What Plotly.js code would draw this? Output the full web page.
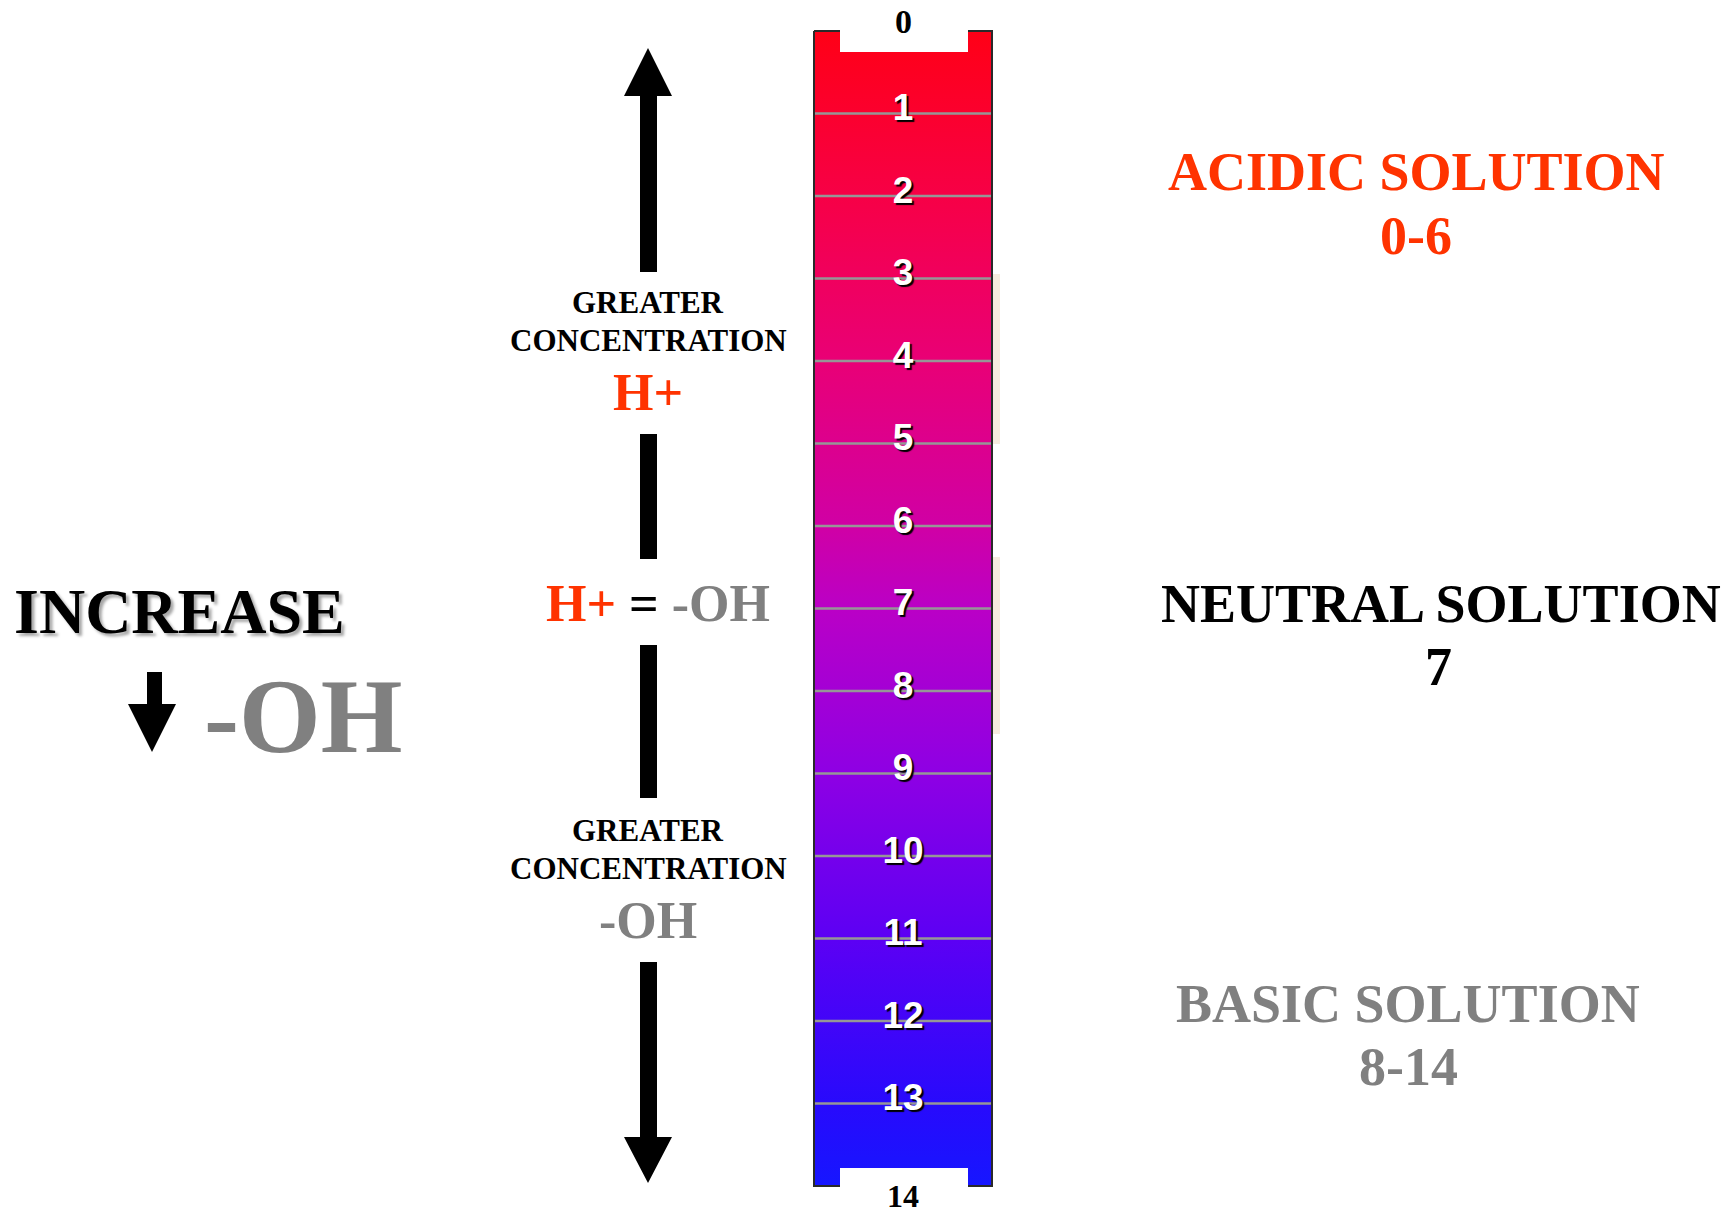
<!DOCTYPE html>
<html>
<head>
<meta charset="utf-8">
<script src="https://cdn.plot.ly/plotly-3.0.1.min.js"></script>
<style>
  html, body { margin: 0; padding: 0; background: #ffffff; }
  #chart { width: 1731px; height: 1217px; }
</style>
</head>
<body>
<div id="chart"></div>
<script>
// ---------------- DATA ----------------
const phMin = 0;
const phMax = 14;
const innerTicks = [1, 2, 3, 4, 5, 6, 7, 8, 9, 10, 11, 12, 13];
const innerTickLabels = ['1', '2', '3', '4', '5', '6', '7', '8', '9', '10', '11', '12', '13'];
const endTicks = [0, 14];
const endTickLabels = ['0', '14'];
const zoneNames = ['ACIDIC SOLUTION', 'NEUTRAL SOLUTION', 'BASIC SOLUTION'];
const zoneRanges = ['0-6', '7', '8-14'];
const gradientStops = [0, 0.143, 0.286, 0.429, 0.5, 0.643, 0.786, 0.929, 1];
const gradientColors = ['rgb(255,0,22)', 'rgb(247,0,70)', 'rgb(233,0,118)', 'rgb(208,0,165)',
  'rgb(186,0,198)', 'rgb(142,0,228)', 'rgb(92,0,244)', 'rgb(40,10,252)', 'rgb(22,22,255)'];

// ---------------- LAYOUT HELPERS ----------------
const W = 1731, H = 1217;
const PX0 = 31, PXPERPH = 82.5;              // pixel row of pH 0 and px per pH unit
const Y = px => (px - PX0) / PXPERPH;         // pixel row -> pH axis units
const BAR_L = 814, BAR_R = 992, BAR_C = (BAR_L + BAR_R) / 2;
const RED = '#FF3300', GRAY = '#808080';
const SERIF = 'Liberation Serif, Times New Roman, serif';

const colorscale = gradientStops.map((s, i) => [s, gradientColors[i]]);

// bar body
const barTrace = {
  type: 'scatter', mode: 'lines',
  x: [BAR_L, BAR_R, BAR_R, BAR_L, BAR_L],
  y: [phMin, phMin, phMax, phMax, phMin],
  fill: 'toself',
  fillgradient: { type: 'vertical', colorscale: colorscale, start: phMin, stop: phMax },
  line: { color: '#2a2a2a', width: 2 },
  hoverinfo: 'skip', showlegend: false
};

// grid lines across bar
const gx = [], gy = [];
innerTicks.forEach(t => { gx.push(BAR_L + 1, BAR_R - 1, null); gy.push(t, t, null); });
const gridTrace = {
  type: 'scatter', mode: 'lines', x: gx, y: gy,
  line: { color: 'rgba(150,150,150,1)', width: 2.5 },
  hoverinfo: 'skip', showlegend: false
};

// inner numbers
const labelTrace = {
  type: 'scatter', mode: 'text',
  x: innerTicks.map(() => BAR_C),
  y: innerTicks.map(t => t - 0.03),
  text: innerTickLabels,
  textposition: 'middle center',
  cliponaxis: false,
  textfont: { family: 'Liberation Sans Narrow, Arial Narrow, Liberation Sans, Arial', size: 37,
              color: '#ffffff', weight: 'bold', shadow: '2px 2px 1px #000000' },
  hoverinfo: 'skip', showlegend: false
};

// ---------------- SHAPES ----------------
function poly(pts, color) {
  const d = pts.map((p, i) => (i ? 'L' : 'M') + p[0] + ',' + Y(p[1])).join(' ') + ' Z';
  return { type: 'path', xref: 'x', yref: 'y', path: d, fillcolor: color, line: { width: 0 }, layer: 'above' };
}
function rect(x0, x1, y0, y1, color) {
  return { type: 'rect', xref: 'x', yref: 'y', x0: x0, x1: x1, y0: Y(y0), y1: Y(y1),
           fillcolor: color, line: { width: 0 }, layer: 'above' };
}
const AX = 648, SL = 640, SR = 657, HL = 624, HR = 672;
const shapes = [
  // notches
  rect(840, 968, 26, 52, '#ffffff'),
  rect(840, 968, 1168, 1190, '#ffffff'),
  // faint strips right of bar
  rect(993, 1000, 274, 444, 'rgba(240,222,200,0.6)'),
  rect(993, 1000, 557, 734, 'rgba(240,222,200,0.6)'),
  // upper arrow
  poly([[AX, 48], [HR, 96], [SR, 96], [SR, 272], [SL, 272], [SL, 96], [HL, 96]], '#000'),
  rect(SL, SR, 434, 559, '#000'),
  rect(SL, SR, 645, 798, '#000'),
  // lower arrow
  poly([[SL, 962], [SR, 962], [SR, 1137], [HR, 1137], [AX, 1183], [HL, 1137], [SL, 1137]], '#000'),
  // small down arrow at left
  poly([[147, 672], [162, 672], [162, 704], [176, 704], [152, 752], [128, 704], [147, 704]], '#000')
];

// ---------------- ANNOTATIONS ----------------
function ann(text, x, y, size, color, extra) {
  return Object.assign({
    text: text, x: x, y: Y(y), xref: 'x', yref: 'y', showarrow: false,
    xanchor: 'center', yanchor: 'middle',
    font: { family: SERIF, size: size, color: color, weight: 'bold' }
  }, extra || {});
}
const annotations = [
  // end labels of the scale
  ann(endTickLabels[0], BAR_C, 21, 34, '#000'),
  ann(endTickLabels[1], BAR_C, 1196, 32, '#000', { borderpad: 0 }),
  ann('GREATER', 648, 302, 31, '#000'),
  ann('CONCENTRATION', 648, 340, 31, '#000'),
  ann('H+', 648, 392, 52, RED),
  ann('<span style="color:' + RED + '">H+</span> = <span style="color:' + GRAY + '">-OH</span>', 658, 603, 52, '#000'),
  ann('GREATER', 648, 830, 31, '#000'),
  ann('CONCENTRATION', 648, 868, 31, '#000'),
  ann('-OH', 648, 920, 52, GRAY),
  ann('INCREASE', 12, 611, 64, '#000', { xanchor: 'left',
      font: { family: SERIF, size: 64, color: '#000', weight: 'bold', shadow: '3px 3px 3px rgba(0,0,0,0.35)' } }),
  ann('-OH', 202, 716, 105, GRAY, { xanchor: 'left' }),
  ann(zoneNames[0], 1416, 172, 54, RED),
  ann(zoneRanges[0], 1416, 236, 54, RED),
  ann(zoneNames[1], 1441, 604, 54, '#000'),
  ann(zoneRanges[1], 1438, 667, 54, '#000'),
  ann(zoneNames[2], 1408, 1004, 54, GRAY),
  ann(zoneRanges[2], 1408, 1067, 54, GRAY)
];

const layout = {
  width: W, height: H,
  margin: { l: 0, r: 0, t: 0, b: 0, pad: 0 },
  paper_bgcolor: '#ffffff', plot_bgcolor: '#ffffff',
  showlegend: false,
  xaxis: { range: [0, W], visible: false, fixedrange: true },
  yaxis: { range: [Y(H), Y(0)], visible: false, fixedrange: true },
  shapes: shapes,
  annotations: annotations
};

Plotly.newPlot('chart', [barTrace, gridTrace, labelTrace], layout,
  { displayModeBar: false, staticPlot: true });
</script>
</body>
</html>
